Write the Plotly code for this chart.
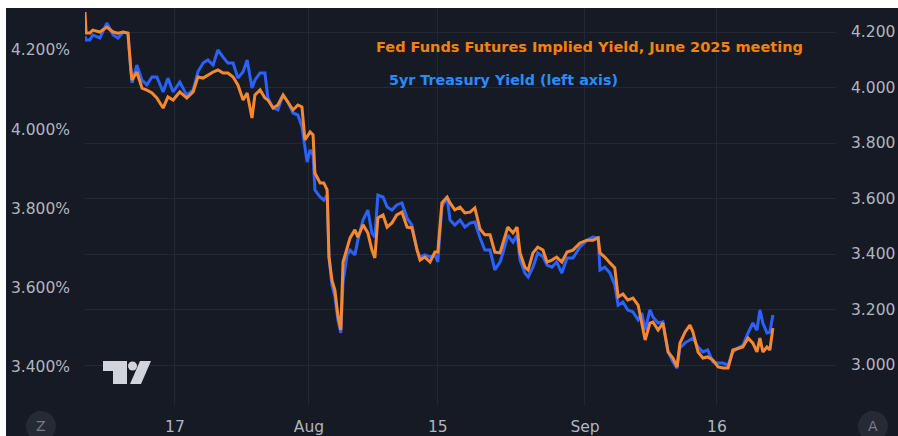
import plotly.graph_objects as go

# ---- data ----
times = [
    "2024-07-06 21:00", "2024-07-07 00:00", "2024-07-07 10:00", "2024-07-07 18:00", "2024-07-08 13:00",
    "2024-07-09 08:00", "2024-07-10 01:00", "2024-07-10 14:00", "2024-07-11 04:00", "2024-07-11 17:00",
    "2024-07-12 01:00", "2024-07-12 04:00", "2024-07-12 17:00", "2024-07-13 07:00", "2024-07-13 20:00",
    "2024-07-14 10:00", "2024-07-14 23:00", "2024-07-15 16:00", "2024-07-16 05:00", "2024-07-16 19:00",
    "2024-07-17 13:00", "2024-07-18 08:00", "2024-07-19 01:00", "2024-07-19 14:00", "2024-07-20 04:00",
    "2024-07-20 17:00", "2024-07-21 07:00", "2024-07-21 20:00", "2024-07-22 10:00", "2024-07-22 23:00",
    "2024-07-23 13:00", "2024-07-24 02:00", "2024-07-24 16:00", "2024-07-25 03:00", "2024-07-25 16:00",
    "2024-07-26 00:00", "2024-07-26 14:00", "2024-07-27 03:00", "2024-07-27 11:00", "2024-07-28 01:00",
    "2024-07-28 14:00", "2024-07-29 04:00", "2024-07-29 17:00", "2024-07-30 07:00", "2024-07-30 20:00",
    "2024-07-31 07:00", "2024-07-31 15:00", "2024-07-31 21:00", "2024-08-01 05:00", "2024-08-01 13:00",
    "2024-08-01 18:00", "2024-08-02 08:00", "2024-08-02 18:00", "2024-08-03 03:00", "2024-08-03 08:00",
    "2024-08-03 16:00", "2024-08-04 00:00", "2024-08-04 08:00", "2024-08-04 16:00", "2024-08-04 22:00",
    "2024-08-05 09:00", "2024-08-05 17:00", "2024-08-06 06:00", "2024-08-06 14:00", "2024-08-07 04:00",
    "2024-08-07 17:00", "2024-08-08 04:00", "2024-08-08 12:00", "2024-08-08 20:00", "2024-08-09 10:00",
    "2024-08-09 21:00", "2024-08-10 10:00", "2024-08-10 23:00", "2024-08-11 13:00", "2024-08-12 03:00",
    "2024-08-12 16:00", "2024-08-13 06:00", "2024-08-13 14:00", "2024-08-14 03:00", "2024-08-14 17:00",
    "2024-08-15 06:00", "2024-08-15 14:00", "2024-08-16 01:00", "2024-08-16 15:00", "2024-08-16 23:00",
    "2024-08-17 12:00", "2024-08-18 02:00", "2024-08-18 15:00", "2024-08-19 05:00", "2024-08-19 18:00",
    "2024-08-20 08:00", "2024-08-20 21:00", "2024-08-21 11:00", "2024-08-22 00:00", "2024-08-22 14:00",
    "2024-08-22 22:00", "2024-08-23 11:00", "2024-08-24 01:00", "2024-08-24 12:00", "2024-08-24 20:00",
    "2024-08-25 09:00", "2024-08-25 18:00", "2024-08-26 07:00", "2024-08-26 20:00", "2024-08-27 10:00",
    "2024-08-27 21:00", "2024-08-28 10:00", "2024-08-28 23:00", "2024-08-29 13:00", "2024-08-30 03:00",
    "2024-08-30 19:00", "2024-08-31 14:00", "2024-09-01 09:00", "2024-09-02 01:00", "2024-09-02 15:00",
    "2024-09-02 20:00", "2024-09-03 09:00", "2024-09-03 23:00", "2024-09-04 12:00", "2024-09-04 21:00",
    "2024-09-05 10:00", "2024-09-05 23:00", "2024-09-06 13:00", "2024-09-07 03:00", "2024-09-07 13:00",
    "2024-09-07 22:00", "2024-09-08 11:00", "2024-09-08 19:00", "2024-09-09 09:00", "2024-09-09 22:00",
    "2024-09-10 12:00", "2024-09-11 01:00", "2024-09-11 12:00", "2024-09-11 20:00", "2024-09-12 10:00",
    "2024-09-12 23:00", "2024-09-13 07:00", "2024-09-13 21:00", "2024-09-14 10:00", "2024-09-14 23:00",
    "2024-09-15 13:00", "2024-09-16 03:00", "2024-09-16 16:00", "2024-09-17 06:00", "2024-09-17 19:00",
    "2024-09-18 09:00", "2024-09-18 22:00", "2024-09-19 12:00", "2024-09-20 01:00", "2024-09-20 12:00",
    "2024-09-20 20:00", "2024-09-21 04:00", "2024-09-21 15:00", "2024-09-21 23:00", "2024-09-22 07:00",
]

fed_funds_implied = [
    4.272, 4.196, 4.196, 4.207, 4.200, 4.218, 4.200, 4.196, 4.200, 4.196,
    4.063, 4.027, 4.056, 3.998, 3.991, 3.980, 3.962, 3.926, 3.966, 3.955,
    3.984, 3.962, 3.984, 4.038, 4.034, 4.045, 4.056, 4.063, 4.052, 4.052,
    4.038, 4.009, 3.955, 3.980, 3.890, 3.973, 3.991, 3.962, 3.955, 3.926,
    3.937, 3.973, 3.948, 3.919, 3.937, 3.930, 3.811, 3.822, 3.840, 3.829,
    3.692, 3.656, 3.656, 3.631, 3.389, 3.306, 3.270, 3.180, 3.126, 3.371,
    3.422, 3.458, 3.487, 3.461, 3.505, 3.476, 3.414, 3.386, 3.530, 3.541,
    3.497, 3.512, 3.541, 3.551, 3.497, 3.494, 3.414, 3.378, 3.389, 3.371,
    3.407, 3.407, 3.584, 3.605, 3.584, 3.559, 3.569, 3.548, 3.551, 3.566,
    3.490, 3.469, 3.469, 3.407, 3.404, 3.443, 3.497, 3.476, 3.497, 3.404,
    3.353, 3.342, 3.404, 3.425, 3.414, 3.371, 3.378, 3.389, 3.371, 3.407,
    3.414, 3.440, 3.450, 3.450, 3.458, 3.404, 3.389, 3.368, 3.350, 3.245,
    3.256, 3.234, 3.241, 3.216, 3.155, 3.090, 3.151, 3.155, 3.126, 3.151,
    3.047, 3.025, 2.993, 3.079, 3.119, 3.144, 3.119, 3.047, 3.025, 3.029,
    3.018, 2.993, 2.989, 2.989, 3.054, 3.061, 3.065, 3.097, 3.079, 3.047,
    3.097, 3.047, 3.065, 3.054, 3.133,
]

treasury_5yr = [
    4.235, 4.225, 4.225, 4.238, 4.230, 4.268, 4.238, 4.230, 4.245, 4.243,
    4.145, 4.117, 4.162, 4.124, 4.112, 4.132, 4.132, 4.094, 4.129, 4.094,
    4.119, 4.086, 4.099, 4.145, 4.167, 4.175, 4.162, 4.200, 4.182, 4.167,
    4.167, 4.129, 4.145, 4.175, 4.104, 4.124, 4.142, 4.142, 4.079, 4.054,
    4.049, 4.086, 4.069, 4.041, 4.036, 4.006, 3.955, 3.917, 3.948, 3.935,
    3.847, 3.829, 3.821, 3.834, 3.678, 3.607, 3.577, 3.519, 3.486, 3.614,
    3.683, 3.695, 3.683, 3.720, 3.771, 3.796, 3.738, 3.728, 3.834, 3.829,
    3.804, 3.796, 3.809, 3.814, 3.776, 3.758, 3.695, 3.678, 3.683, 3.678,
    3.683, 3.665, 3.804, 3.829, 3.771, 3.758, 3.771, 3.753, 3.763, 3.766,
    3.726, 3.695, 3.695, 3.645, 3.665, 3.688, 3.733, 3.715, 3.733, 3.670,
    3.637, 3.627, 3.652, 3.688, 3.678, 3.657, 3.652, 3.665, 3.637, 3.675,
    3.675, 3.703, 3.720, 3.728, 3.726, 3.645, 3.652, 3.637, 3.607, 3.556,
    3.564, 3.544, 3.539, 3.519, 3.536, 3.493, 3.544, 3.526, 3.511, 3.514,
    3.438, 3.413, 3.397, 3.448, 3.461, 3.468, 3.473, 3.450, 3.438, 3.443,
    3.413, 3.410, 3.410, 3.405, 3.438, 3.448, 3.455, 3.486, 3.511, 3.493,
    3.544, 3.511, 3.486, 3.488, 3.531,
]

left_ticks = [3.4, 3.6, 3.8, 4.0, 4.2]
left_labels = ["3.400%", "3.600%", "3.800%", "4.000%", "4.200%"]
right_ticks = [3.0, 3.2, 3.4, 3.6, 3.8, 4.0, 4.2]
right_labels = ["3.000", "3.200", "3.400", "3.600", "3.800", "4.000", "4.200"]
x_ticks = ["2024-07-17 00:00", "2024-08-01 02:00", "2024-08-15 14:00", "2024-09-01 03:30", "2024-09-16 00:00"]
x_labels = ["17", "Aug", "15", "Sep", "16"]

label_fed = "Fed Funds Futures Implied Yield, June 2025 meeting"
label_5yr = "5yr Treasury Yield (left axis)"

# ---- styling ----
BG = "#161a25"
GRID = "#242833"
TXT = "#b2b5be"
BLUE = "#2962ff"
ORANGE = "#f7882f"

W, H = 898, 436
L, R, T, B = 85, 62, 8, 31
PW, PH = W - L - R, H - T - B


def px(x):
    return (x - L) / PW


def py(y):
    return (H - B - y) / PH


fig = go.Figure()
fig.add_trace(go.Scatter(x=times, y=treasury_5yr, mode="lines", yaxis="y",
                         line=dict(color=BLUE, width=3), name=label_5yr))
fig.add_trace(go.Scatter(x=times, y=fed_funds_implied, mode="lines", yaxis="y2",
                         line=dict(color=ORANGE, width=3), name=label_fed))

font_axis = dict(family="DejaVu Sans", size=15.5, color=TXT)

# logo (TradingView style) and corner buttons
T_path = "M {} {} L {} {} L {} {} L {} {} L {} {} L {} {} Z".format(
    px(103), py(361), px(127), py(361), px(127), py(384),
    px(113), py(384), px(113), py(371), px(103), py(371))
P_path = "M {} {} L {} {} L {} {} L {} {} Z".format(
    px(140), py(361), px(151), py(361), px(141), py(384), px(130), py(384))

shapes = [
    dict(type="path", path=T_path, xref="paper", yref="paper", fillcolor="#d1d4dc", line=dict(width=0)),
    dict(type="path", path=P_path, xref="paper", yref="paper", fillcolor="#d1d4dc", line=dict(width=0)),
    dict(type="circle", xref="paper", yref="paper", x0=px(128), x1=px(137), y0=py(370.5), y1=py(361.5),
         fillcolor="#d1d4dc", line=dict(width=0)),
    dict(type="circle", xref="paper", yref="paper", x0=px(26), x1=px(56), y0=py(441), y1=py(411),
         fillcolor="#262a35", line=dict(width=0)),
    dict(type="circle", xref="paper", yref="paper", x0=px(858), x1=px(888), y0=py(441), y1=py(411),
         fillcolor="#262a35", line=dict(width=0)),
    # white margins of the screenshot
    dict(type="rect", xref="paper", yref="paper", x0=px(-5), x1=px(6), y0=py(440), y1=py(-5),
         fillcolor="white", line=dict(width=0), layer="above"),
    dict(type="rect", xref="paper", yref="paper", x0=px(-5), x1=px(905), y0=py(8), y1=py(-5),
         fillcolor="white", line=dict(width=0), layer="above"),
]

annotations = [
    dict(text="<b>" + label_fed + "</b>", xref="paper", yref="paper", x=px(589), y=py(47),
         xanchor="center", yanchor="middle", showarrow=False,
         font=dict(family="DejaVu Sans", size=14.5, color="#f5820d")),
    dict(text="<b>" + label_5yr + "</b>", xref="paper", yref="paper", x=px(503), y=py(80),
         xanchor="center", yanchor="middle", showarrow=False,
         font=dict(family="DejaVu Sans", size=14.3, color="#2a8bff")),
    dict(text="Z", xref="paper", yref="paper", x=px(41), y=py(426), xanchor="center", yanchor="middle",
         showarrow=False, font=dict(family="DejaVu Sans", size=14, color="#787b86")),
    dict(text="A", xref="paper", yref="paper", x=px(873), y=py(426), xanchor="center", yanchor="middle",
         showarrow=False, font=dict(family="DejaVu Sans", size=14, color="#787b86")),
]

fig.update_layout(
    width=W, height=H, autosize=False,
    margin=dict(l=L, r=R, t=T, b=B, pad=0, autoexpand=False),
    paper_bgcolor=BG, plot_bgcolor=BG,
    showlegend=False, hovermode=False,
    shapes=shapes, annotations=annotations,
    xaxis=dict(type="date", range=["2024-07-06 21:00", "2024-09-29 09:30"],
               tickvals=x_ticks, ticktext=x_labels, showgrid=True, gridcolor=GRID, gridwidth=1,
               zeroline=False, showline=False, ticks="", tickfont=font_axis, ticklabelstandoff=10,
               fixedrange=True, automargin=False),
    yaxis=dict(side="left", range=[3.3041, 4.306], tickvals=left_ticks, ticktext=left_labels,
               showgrid=False, zeroline=False, showline=False, ticks="", tickfont=font_axis,
               ticklabelstandoff=14, automargin=False),
    yaxis2=dict(side="right", overlaying="y", range=[2.8559, 4.2865], tickvals=right_ticks,
                ticktext=right_labels, showgrid=True, gridcolor=GRID, gridwidth=1, zeroline=False,
                showline=False, ticks="", tickfont=font_axis, ticklabelstandoff=14, automargin=False),
)

fig.write_html("out.html")
